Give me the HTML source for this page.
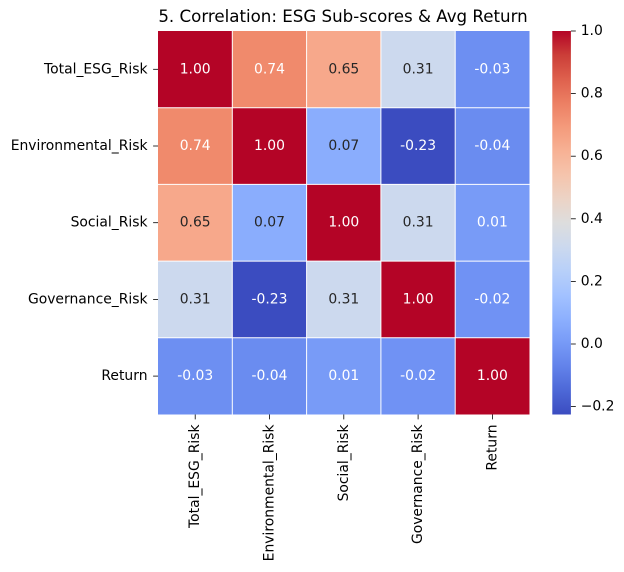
<!DOCTYPE html>
<html>
<head>
<meta charset="utf-8">
<style>
  html, body { margin: 0; padding: 0; background: #ffffff; }
  svg { display: block; }
  text { font-family: "DejaVu Sans", "Liberation Sans", sans-serif; }
</style>
</head>
<body>
<svg width="624" height="572" viewBox="0 0 624 572" xmlns="http://www.w3.org/2000/svg">
  <defs>
    <linearGradient id="cw" x1="0" y1="1" x2="0" y2="0">
      <stop offset="0" stop-color="rgb(59,76,192)"/>
      <stop offset="0.0625" stop-color="rgb(77,104,215)"/>
      <stop offset="0.125" stop-color="rgb(98,130,234)"/>
      <stop offset="0.1875" stop-color="rgb(119,154,247)"/>
      <stop offset="0.25" stop-color="rgb(141,176,254)"/>
      <stop offset="0.3125" stop-color="rgb(163,194,255)"/>
      <stop offset="0.375" stop-color="rgb(184,208,249)"/>
      <stop offset="0.4375" stop-color="rgb(204,217,238)"/>
      <stop offset="0.5" stop-color="rgb(221,221,221)"/>
      <stop offset="0.5625" stop-color="rgb(236,211,197)"/>
      <stop offset="0.625" stop-color="rgb(245,196,172)"/>
      <stop offset="0.6875" stop-color="rgb(247,177,148)"/>
      <stop offset="0.75" stop-color="rgb(244,154,123)"/>
      <stop offset="0.8125" stop-color="rgb(236,127,99)"/>
      <stop offset="0.875" stop-color="rgb(222,96,77)"/>
      <stop offset="0.9375" stop-color="rgb(203,62,56)"/>
      <stop offset="1" stop-color="rgb(180,4,38)"/>
    </linearGradient>
  </defs>

  <!-- Title -->
  <text x="343" y="22" font-size="16.67" text-anchor="middle" fill="#000">5. Correlation: ESG Sub-scores &amp; Avg Return</text>

  <!-- Heatmap cells -->
  <g>
    <!-- row 0 -->
    <rect x="158" y="31" width="74.3" height="76.7" fill="#b40426"/>
    <rect x="232.3" y="31" width="74.3" height="76.7" fill="#f08a6c"/>
    <rect x="306.6" y="31" width="74.3" height="76.7" fill="#f7a88b"/>
    <rect x="380.9" y="31" width="74.3" height="76.7" fill="#ccd9ee"/>
    <rect x="455.2" y="31" width="74.3" height="76.7" fill="#6d8ff2"/>
    <!-- row 1 -->
    <rect x="158" y="107.7" width="74.3" height="76.7" fill="#f08a6c"/>
    <rect x="232.3" y="107.7" width="74.3" height="76.7" fill="#b40426"/>
    <rect x="306.6" y="107.7" width="74.3" height="76.7" fill="#8aadfd"/>
    <rect x="380.9" y="107.7" width="74.3" height="76.7" fill="#3b4cc0"/>
    <rect x="455.2" y="107.7" width="74.3" height="76.7" fill="#6a8cf0"/>
    <!-- row 2 -->
    <rect x="158" y="184.4" width="74.3" height="76.7" fill="#f7a88b"/>
    <rect x="232.3" y="184.4" width="74.3" height="76.7" fill="#8aadfd"/>
    <rect x="306.6" y="184.4" width="74.3" height="76.7" fill="#b40426"/>
    <rect x="380.9" y="184.4" width="74.3" height="76.7" fill="#ccd9ee"/>
    <rect x="455.2" y="184.4" width="74.3" height="76.7" fill="#789bf7"/>
    <!-- row 3 -->
    <rect x="158" y="261.1" width="74.3" height="76.7" fill="#ccd9ee"/>
    <rect x="232.3" y="261.1" width="74.3" height="76.7" fill="#3b4cc0"/>
    <rect x="306.6" y="261.1" width="74.3" height="76.7" fill="#ccd9ee"/>
    <rect x="380.9" y="261.1" width="74.3" height="76.7" fill="#b40426"/>
    <rect x="455.2" y="261.1" width="74.3" height="76.7" fill="#7092f4"/>
    <!-- row 4 -->
    <rect x="158" y="337.8" width="74.3" height="76.7" fill="#6d8ff2"/>
    <rect x="232.3" y="337.8" width="74.3" height="76.7" fill="#6a8cf0"/>
    <rect x="306.6" y="337.8" width="74.3" height="76.7" fill="#789bf7"/>
    <rect x="380.9" y="337.8" width="74.3" height="76.7" fill="#7092f4"/>
    <rect x="455.2" y="337.8" width="74.3" height="76.7" fill="#b40426"/>
  </g>

  <!-- white grid lines -->
  <g stroke="#ffffff" stroke-width="1">
    <line x1="232.3" y1="31" x2="232.3" y2="414.5"/>
    <line x1="306.6" y1="31" x2="306.6" y2="414.5"/>
    <line x1="380.9" y1="31" x2="380.9" y2="414.5"/>
    <line x1="455.2" y1="31" x2="455.2" y2="414.5"/>
    <line x1="158" y1="107.7" x2="529.5" y2="107.7"/>
    <line x1="158" y1="184.4" x2="529.5" y2="184.4"/>
    <line x1="158" y1="261.1" x2="529.5" y2="261.1"/>
    <line x1="158" y1="337.8" x2="529.5" y2="337.8"/>
  </g>

  <!-- annotations -->
  <g font-size="13.9" text-anchor="middle" dominant-baseline="central">
    <text x="195.2" y="69.3" fill="#ffffff">1.00</text>
    <text x="269.5" y="69.3" fill="#ffffff">0.74</text>
    <text x="343.8" y="69.3" fill="#262626">0.65</text>
    <text x="418.1" y="69.3" fill="#262626">0.31</text>
    <text x="492.4" y="69.3" fill="#ffffff">-0.03</text>

    <text x="195.2" y="146" fill="#ffffff">0.74</text>
    <text x="269.5" y="146" fill="#ffffff">1.00</text>
    <text x="343.8" y="146" fill="#262626">0.07</text>
    <text x="418.1" y="146" fill="#ffffff">-0.23</text>
    <text x="492.4" y="146" fill="#ffffff">-0.04</text>

    <text x="195.2" y="222.7" fill="#262626">0.65</text>
    <text x="269.5" y="222.7" fill="#262626">0.07</text>
    <text x="343.8" y="222.7" fill="#ffffff">1.00</text>
    <text x="418.1" y="222.7" fill="#262626">0.31</text>
    <text x="492.4" y="222.7" fill="#ffffff">0.01</text>

    <text x="195.2" y="299.4" fill="#262626">0.31</text>
    <text x="269.5" y="299.4" fill="#ffffff">-0.23</text>
    <text x="343.8" y="299.4" fill="#262626">0.31</text>
    <text x="418.1" y="299.4" fill="#ffffff">1.00</text>
    <text x="492.4" y="299.4" fill="#ffffff">-0.02</text>

    <text x="195.2" y="376.1" fill="#ffffff">-0.03</text>
    <text x="269.5" y="376.1" fill="#ffffff">-0.04</text>
    <text x="343.8" y="376.1" fill="#ffffff">0.01</text>
    <text x="418.1" y="376.1" fill="#ffffff">-0.02</text>
    <text x="492.4" y="376.1" fill="#ffffff">1.00</text>
  </g>

  <!-- y ticks -->
  <g stroke="#000" stroke-width="0.8">
    <line x1="153.1" y1="69.3" x2="158" y2="69.3"/>
    <line x1="153.1" y1="146" x2="158" y2="146"/>
    <line x1="153.1" y1="222.7" x2="158" y2="222.7"/>
    <line x1="153.1" y1="299.4" x2="158" y2="299.4"/>
    <line x1="153.1" y1="376.1" x2="158" y2="376.1"/>
  </g>
  <g font-size="13.9" text-anchor="end" dominant-baseline="central" fill="#000">
    <text x="147.5" y="69.3">Total_ESG_Risk</text>
    <text x="147.5" y="146">Environmental_Risk</text>
    <text x="147.5" y="222.7">Social_Risk</text>
    <text x="147.5" y="299.4">Governance_Risk</text>
    <text x="147.5" y="376.1">Return</text>
  </g>

  <!-- x ticks -->
  <g stroke="#000" stroke-width="0.8">
    <line x1="195.2" y1="414.5" x2="195.2" y2="419.4"/>
    <line x1="269.5" y1="414.5" x2="269.5" y2="419.4"/>
    <line x1="343.8" y1="414.5" x2="343.8" y2="419.4"/>
    <line x1="418.1" y1="414.5" x2="418.1" y2="419.4"/>
    <line x1="492.4" y1="414.5" x2="492.4" y2="419.4"/>
  </g>
  <g font-size="13.9" text-anchor="end" dominant-baseline="central" fill="#000">
    <text transform="translate(195.2,424.5) rotate(-90)">Total_ESG_Risk</text>
    <text transform="translate(269.5,424.5) rotate(-90)">Environmental_Risk</text>
    <text transform="translate(343.8,424.5) rotate(-90)">Social_Risk</text>
    <text transform="translate(418.1,424.5) rotate(-90)">Governance_Risk</text>
    <text transform="translate(492.4,424.5) rotate(-90)">Return</text>
  </g>

  <!-- colorbar -->
  <rect x="552.3" y="31" width="18.6" height="383.5" fill="url(#cw)"/>
  <g stroke="#000" stroke-width="0.8">
    <line x1="570.9" y1="31" x2="575.8" y2="31"/>
    <line x1="570.9" y1="93.6" x2="575.8" y2="93.6"/>
    <line x1="570.9" y1="156.2" x2="575.8" y2="156.2"/>
    <line x1="570.9" y1="218.8" x2="575.8" y2="218.8"/>
    <line x1="570.9" y1="281.4" x2="575.8" y2="281.4"/>
    <line x1="570.9" y1="344" x2="575.8" y2="344"/>
    <line x1="570.9" y1="406.6" x2="575.8" y2="406.6"/>
  </g>
  <g font-size="13.9" text-anchor="start" dominant-baseline="central" fill="#000">
    <text x="580.7" y="31">1.0</text>
    <text x="580.7" y="93.6">0.8</text>
    <text x="580.7" y="156.2">0.6</text>
    <text x="580.7" y="218.8">0.4</text>
    <text x="580.7" y="281.4">0.2</text>
    <text x="580.7" y="344">0.0</text>
    <text x="580.7" y="406.6">−0.2</text>
  </g>
</svg>
</body>
</html>
